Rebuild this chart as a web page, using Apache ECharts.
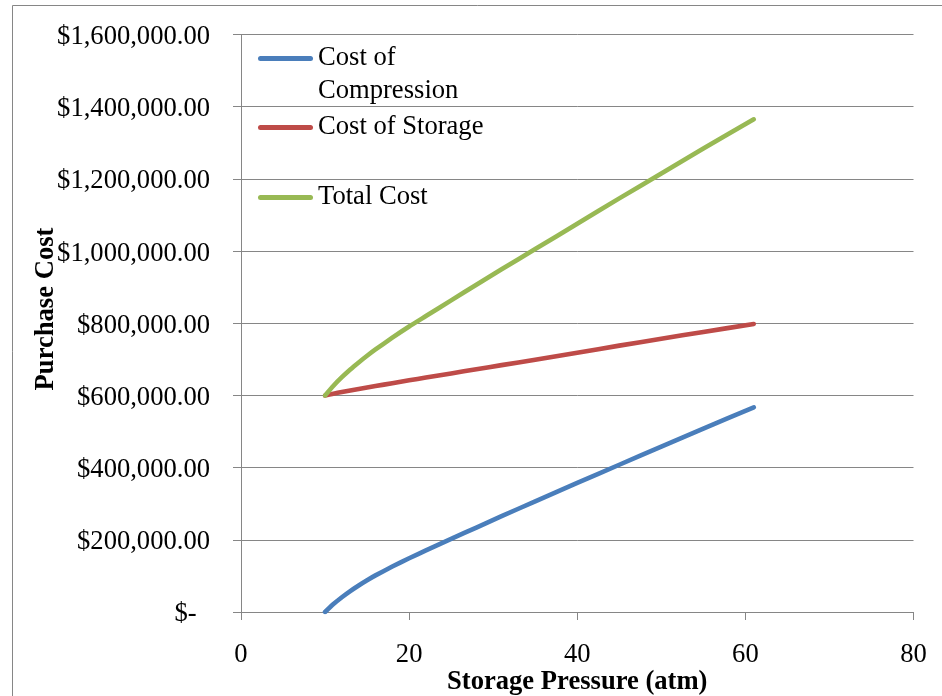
<!DOCTYPE html>
<html>
<head>
<meta charset="utf-8">
<script src="https://cdn.jsdelivr.net/npm/echarts@6/dist/echarts.min.js"></script>
<style>
  html, body { margin: 0; padding: 0; background: #fff; }
  #chart { width: 942px; height: 696px; }
</style>
</head>
<body>
<div id="chart"></div>
<script>
// Storage pressure (atm)
const pressure = [10, 11, 12, 13, 14, 15, 16, 18, 20, 22, 25, 28, 31, 35, 40, 45, 50, 55, 61];
// Purchase costs ($)
const compressionCost = [0, 22000, 41000, 58000, 73500, 88000, 101500, 126000, 149000, 170500, 202500, 234000, 265500, 306500, 357500, 408000, 458000, 508000, 567000];
const storageCost = [600000, 605000, 609500, 614000, 618000, 622000, 626000, 634000, 642000, 649500, 661000, 672500, 684000, 699000, 718000, 738000, 757000, 776000, 798000];
const totalCost = [600000, 627000, 650500, 672000, 691500, 710000, 727500, 760000, 791000, 820000, 863500, 906500, 949500, 1005500, 1075500, 1146000, 1215000, 1284000, 1365000];

const seriesNames = ['Cost of Compression', 'Cost of Storage', 'Total Cost'];
const seriesColors = ['#4A7EBB', '#BE4B48', '#98B954'];
const xTicks = [0, 20, 40, 60, 80];
const yTicks = [0, 200000, 400000, 600000, 800000, 1000000, 1200000, 1400000, 1600000];

const FONT = '"Liberation Serif", "Times New Roman", serif';
const GRAY = '#868686';
const FS = 26.6;
const LINE_H = 33;

function money(v) {
  const txt = v === 0
    ? '$-  '
    : '$' + v.toLocaleString('en-US', { minimumFractionDigits: 2, maximumFractionDigits: 2 });
  return '{v|' + txt + '}';
}

function pairs(ys) {
  return pressure.map((p, i) => [p, ys[i]]);
}

// Long legend names wrap onto a second line; a blank leading line keeps
// the swatch level with the first line of text.
function legendLabel(name) {
  return name === 'Cost of Compression' ? ' \nCost of\nCompression' : name;
}

const seriesValues = [compressionCost, storageCost, totalCost];

const chart = echarts.init(document.getElementById('chart'), null, { renderer: 'canvas' });

const legendTops = [9, 111, 181];
const capsule = 'path://M2.5,0 H52.5 A2.5,2.5 0 0 1 52.5,5 H2.5 A2.5,2.5 0 0 1 2.5,0 Z';

chart.setOption({
  animation: false,
  backgroundColor: '#fff',
  grid: { left: 241, right: 28.5, top: 34.5, bottom: 84, containLabel: false, outerBoundsMode: 'none' },
  xAxis: {
    type: 'value',
    min: xTicks[0],
    max: xTicks[xTicks.length - 1],
    interval: 20,
    name: 'Storage Pressure (atm)',
    nameLocation: 'middle',
    nameGap: 57,
    nameMoveOverlap: false,
    nameTextStyle: { fontFamily: FONT, fontSize: FS, fontWeight: 'bold', color: '#000' },
    axisLine: { onZero: false, lineStyle: { color: GRAY, width: 1 } },
    axisTick: { show: true, inside: false, length: 8, lineStyle: { color: GRAY, width: 1 } },
    axisLabel: { fontFamily: FONT, fontSize: FS, color: '#000', margin: 30 },
    splitLine: { show: false }
  },
  yAxis: {
    type: 'value',
    min: yTicks[0],
    max: yTicks[yTicks.length - 1],
    interval: 200000,
    axisLine: { show: true, lineStyle: { color: GRAY, width: 1 } },
    axisTick: { show: true, inside: false, length: 8, lineStyle: { color: GRAY, width: 1 } },
    axisLabel: {
      fontFamily: FONT, fontSize: FS, color: '#000', margin: 31, formatter: money,
      rich: { v: { fontFamily: FONT, fontSize: FS, color: '#000', padding: [5, 0, 0, 0] } }
    },
    splitLine: { show: true, lineStyle: { color: GRAY, width: 1 } }
  },
  legend: seriesNames.map((name, i) => ({
    show: true,
    data: [name],
    left: 258,
    top: legendTops[i],
    padding: 0,
    orient: 'vertical',
    icon: capsule,
    itemWidth: 55,
    itemHeight: 5,
    itemGap: 0,
    itemStyle: { borderWidth: 0 },
    formatter: legendLabel,
    textStyle: { fontFamily: FONT, fontSize: FS, color: '#000', lineHeight: LINE_H }
  })),
  graphic: [
    {
      type: 'rect',
      silent: true,
      shape: { x: 12.5, y: 5.5, width: 1000, height: 1000 },
      style: { fill: 'none', stroke: GRAY, lineWidth: 1 }
    },
    {
      type: 'text',
      silent: true,
      x: 46,
      y: 309,
      rotation: Math.PI / 2,
      style: {
        text: 'Purchase Cost',
        font: 'bold ' + FS + 'px ' + FONT,
        fill: '#000',
        align: 'center',
        verticalAlign: 'middle'
      }
    }
  ],
  series: seriesNames.map((name, i) => ({
    name: name,
    type: 'line',
    data: pairs(seriesValues[i]),
    showSymbol: false,
    symbol: 'none',
    smooth: 0.2,
    lineStyle: { color: seriesColors[i], width: 4.6, cap: 'round', join: 'round' },
    itemStyle: { color: seriesColors[i] },
    z: 3 + i
  }))
});
</script>
</body>
</html>
